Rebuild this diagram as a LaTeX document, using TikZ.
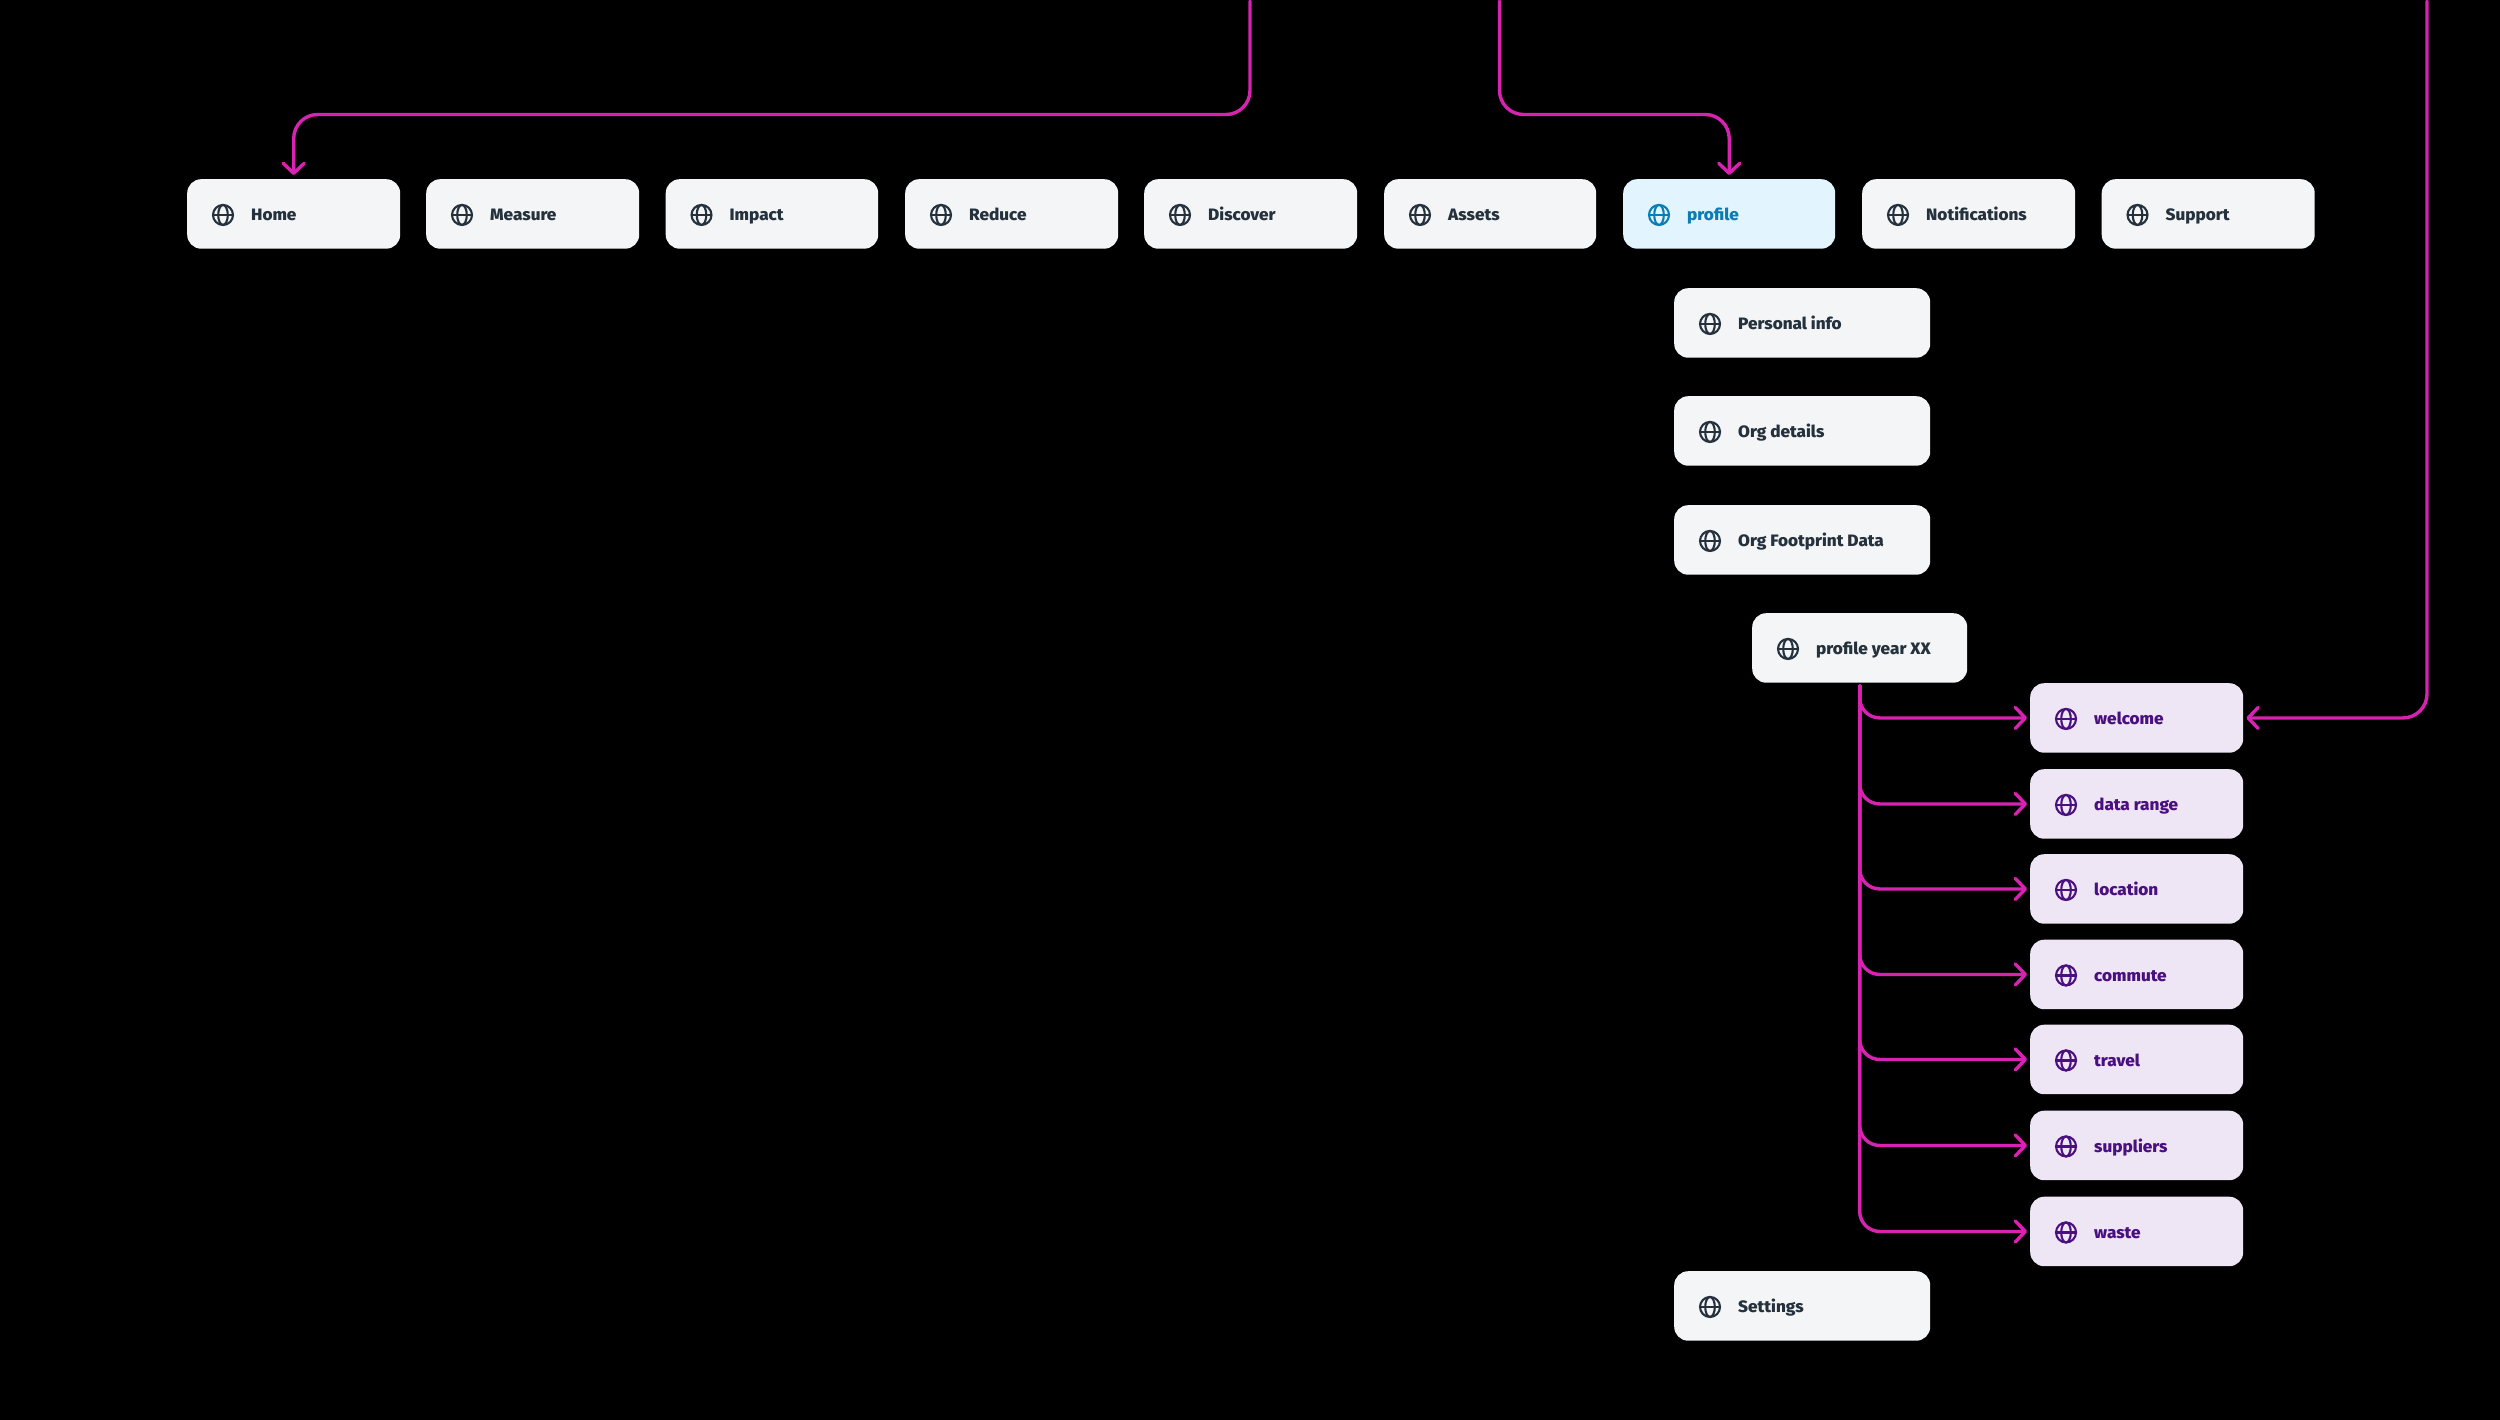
\documentclass[tikz,border=0pt]{standalone}
\usepackage{fontspec}
\setmainfont{Fira Sans}
\newfontfamily\navfont[FakeStretch=1.04]{Fira Sans ExtraBold}
\usetikzlibrary{arrows.meta,calc}
\definecolor{bgblack}{HTML}{000000}
\definecolor{boxplain}{HTML}{F3F5F7}
\definecolor{boxblue}{HTML}{E2F4FD}
\definecolor{boxpurple}{HTML}{EEE6F4}
\definecolor{inkplain}{HTML}{25313C}
\definecolor{inkblue}{HTML}{0B7DB4}
\definecolor{inkpurple}{HTML}{4A1080}
\definecolor{wire}{HTML}{D822B2}
\tikzset{
  navbox/.style={rounded corners=14pt,inner sep=0pt,anchor=north west,minimum height=69.5pt,draw=none},
  navlabel/.style={inner sep=0pt,anchor=base west,font=\fontsize{16.5pt}{18pt}\selectfont\navfont},
  navicon/.style={line width=2.1pt},
  wirebase/.style={draw=wire,line width=3.4pt,line cap=round,line join=round,
    -{Straight Barb[length=10pt,width=21pt,line width=3.4pt,round]}},
  wirewide/.style={wirebase,rounded corners=24pt},
  wirebranch/.style={wirebase,rounded corners=20pt},
}
% name, left, top, width, fill, ink, text
\newcommand{\navitem}[7]{%
  \node[navbox,fill=#5,minimum width=#4pt] (#1) at (#2,#3) {};
  \draw[navicon,draw=#6] ($(#1.west)+(36pt,-1pt)$) circle[radius=10pt];
  \draw[navicon,draw=#6] ($(#1.west)+(36pt,-1pt)$) ellipse[x radius=4.8pt,y radius=10pt];
  \draw[navicon,draw=#6] ($(#1.west)+(26pt,-1pt)$) -- ($(#1.west)+(46pt,-1pt)$);
  \node[navlabel,text=#6] (#1text) at ($(#1.west)+(64pt,-7pt)$) {#7};
}
\begin{document}
\begin{tikzpicture}[x=1pt,y=-1pt]
\useasboundingbox[fill=bgblack] (0,0) rectangle (2500,1420);
\navitem{home}{187}{179}{213}{boxplain}{inkplain}{Home}
\navitem{measure}{426}{179}{213}{boxplain}{inkplain}{Measure}
\navitem{impact}{665.5}{179}{212.5}{boxplain}{inkplain}{Impact}
\navitem{reduce}{905}{179}{213}{boxplain}{inkplain}{Reduce}
\navitem{discover}{1144}{179}{213}{boxplain}{inkplain}{Discover}
\navitem{assets}{1384}{179}{212}{boxplain}{inkplain}{Assets}
\navitem{profile}{1623}{179}{212}{boxblue}{inkblue}{profile}
\navitem{notifications}{1862}{179}{213}{boxplain}{inkplain}{Notifications}
\navitem{support}{2101.5}{179}{213}{boxplain}{inkplain}{Support}
\navitem{personal}{1674}{288}{256}{boxplain}{inkplain}{Personal info}
\navitem{orgdetails}{1674}{396}{256}{boxplain}{inkplain}{Org details}
\navitem{footprint}{1674}{505}{256}{boxplain}{inkplain}{Org Footprint Data}
\navitem{year}{1752}{613}{215}{boxplain}{inkplain}{profile year XX}
\navitem{settings}{1674}{1271}{256}{boxplain}{inkplain}{Settings}
\navitem{welcome}{2030}{683}{213}{boxpurple}{inkpurple}{welcome}
\navitem{datarange}{2030}{769}{213}{boxpurple}{inkpurple}{data range}
\navitem{location}{2030}{854}{213}{boxpurple}{inkpurple}{location}
\navitem{commute}{2030}{939.5}{213}{boxpurple}{inkpurple}{commute}
\navitem{travel}{2030}{1024.5}{213}{boxpurple}{inkpurple}{travel}
\navitem{suppliers}{2030}{1110.5}{213}{boxpurple}{inkpurple}{suppliers}
\navitem{waste}{2030}{1196.5}{213}{boxpurple}{inkpurple}{waste}
\coordinate (srcone) at (1250,1);
\coordinate (srctwo) at (1499.5,1);
\coordinate (srcthree) at (2427,1);
\coordinate (laneone) at (0,114.5);
\draw[wirewide,shorten >=4pt] (srcone) -- (srcone |- laneone) -- (home.north |- laneone) -- (home.north);
\draw[wirewide,shorten >=4pt] (srctwo) -- (srctwo |- laneone) -- (profile.north |- laneone) -- (profile.north);
\draw[wirewide,shorten >=3pt] (srcthree) -- (srcthree |- welcome.east) -- (welcome.east);
\foreach \t in {welcome,datarange,location,commute,travel,suppliers,waste}
  \draw[wirebranch,shorten >=3pt,shorten <=3pt] (year.south) -- (year.south |- \t.west) -- (\t.west);
\end{tikzpicture}
\end{document}
